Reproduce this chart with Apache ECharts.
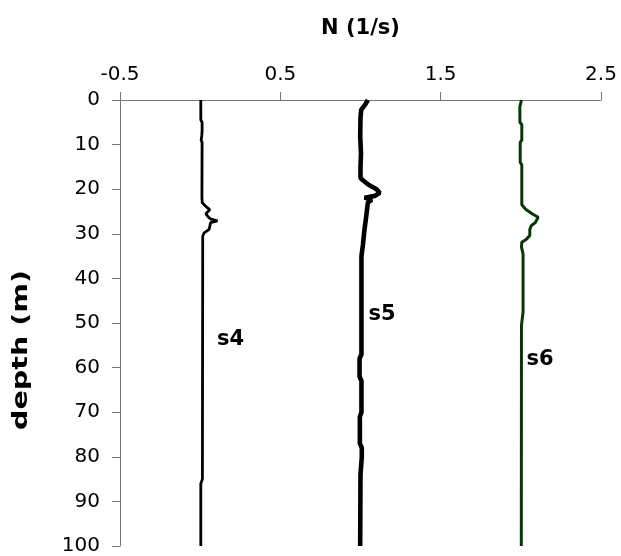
<!DOCTYPE html>
<html>
<head>
<meta charset="utf-8">
<script src="https://cdn.jsdelivr.net/npm/echarts@6/dist/echarts.min.js"></script>
<style>html,body{margin:0;padding:0;background:#fff}#c{width:621px;height:556px}</style>
</head>
<body>
<div id="c"></div>
<script>
// x tick labels / axis ranges
const xTicks = [-0.5, 0.5, 1.5, 2.5];
const depthTicks = [0, 10, 20, 30, 40, 50, 60, 70, 80, 90, 100];

// profiles: [N value, depth]
const s4 = [[0.004,0],[0.004,4.5],[0.012,5],[0.012,7],[0.01,8],[0.006,9],[0.012,9.5],[0.011,22],[0.013,23],[0.028,23.6],[0.046,24.2],[0.06,24.6],[0.035,25.5],[0.05,26.2],[0.067,26.7],[0.108,27.1],[0.065,27.5],[0.056,29],[0.025,29.8],[0.016,30.5],[0.014,85],[0.004,86],[0.004,100]];
const s5 = [[1.046,0],[1.03,1],[1.004,2.2],[1.0,4],[0.998,8],[1.003,12],[1.0,15],[1.0,17.5],[1.015,18],[1.05,19],[1.1,20],[1.12,20.8],[1.09,21.5],[1.025,21.9],[1.07,22.4],[1.046,23],[1.036,26],[1.025,29],[1.015,32.5],[1.006,35],[1.006,57],[0.994,58],[0.994,62],[1.006,63],[1.006,70],[0.996,71],[0.996,77],[1.008,78],[1.008,80],[1.0,84],[0.998,100]];
const s6 = [[2.004,0],[1.994,1.5],[1.994,5],[2.006,5.5],[2.006,9],[1.996,9.5],[1.996,14],[2.006,14.5],[2.006,23.5],[2.03,24.5],[2.07,25.5],[2.108,26.3],[2.12,26.7],[2.09,27.5],[2.065,28.2],[2.056,29],[2.056,30.4],[2.035,31.2],[2.006,31.9],[2.004,33],[2.014,34.5],[2.014,47.5],[2.004,50.5],[2.003,100]];

// series label anchors: [N value, depth, text]
const seriesLabels = [[0.19,53.6,'s4'],[1.134,48.2,'s5'],[2.12,58.3,'s6']];

const FONT = 'DejaVu Sans';
const chart = echarts.init(document.getElementById('c'), null, {renderer:'canvas'});
chart.setOption({
  animation:false,
  backgroundColor:'#fff',
  grid:{left:120,right:20,top:100,bottom:7,containLabel:false},
  xAxis:{
    type:'value', position:'top', min:xTicks[0], max:xTicks[xTicks.length-1], interval:1,
    name:'N (1/s)', nameLocation:'middle', nameGap:61,
    nameTextStyle:{fontFamily:FONT,fontWeight:'bold',fontSize:21,color:'#000'},
    axisLine:{show:true,onZero:false,lineStyle:{color:'#777',width:1}},
    axisTick:{show:true,length:8,lineStyle:{color:'#777'}},
    axisLabel:{fontFamily:FONT,fontSize:20,color:'#000',margin:15,formatter:v=>String(v)},
    splitLine:{show:false}
  },
  yAxis:{
    type:'value', inverse:true, min:depthTicks[0], max:depthTicks[depthTicks.length-1], interval:10,
    axisLine:{show:true,onZero:false,lineStyle:{color:'#777',width:1}},
    axisTick:{show:true,length:8,lineStyle:{color:'#777'}},
    axisLabel:{fontFamily:FONT,fontSize:20,color:'#000',margin:20},
    splitLine:{show:false}
  },
  graphic:[{type:'text',x:22,y:350,rotation:Math.PI/2,scaleX:1.36,
    style:{text:'depth (m)',fontFamily:FONT,fontWeight:'bold',fontSize:21,fill:'#000',align:'center',verticalAlign:'middle'}}],
  series:[
    {name:'s4',type:'line',data:s4,showSymbol:false,lineStyle:{color:'#000',width:2.8},z:3},
    {name:'s5',type:'line',data:s5,showSymbol:false,lineStyle:{color:'#000',width:4.6},z:3},
    {name:'s6',type:'line',data:s6,showSymbol:false,lineStyle:{color:'#063806',width:3},z:3},
    {name:'labels',type:'scatter',symbolSize:0,itemStyle:{opacity:1},data:seriesLabels.map(d=>[d[0],d[1],d[2]]),
     label:{show:true,position:'inside',opacity:1,formatter:p=>p.data[2],fontFamily:FONT,fontWeight:'bold',fontSize:21,color:'#000'},z:4}
  ]
});
</script>
</body>
</html>
